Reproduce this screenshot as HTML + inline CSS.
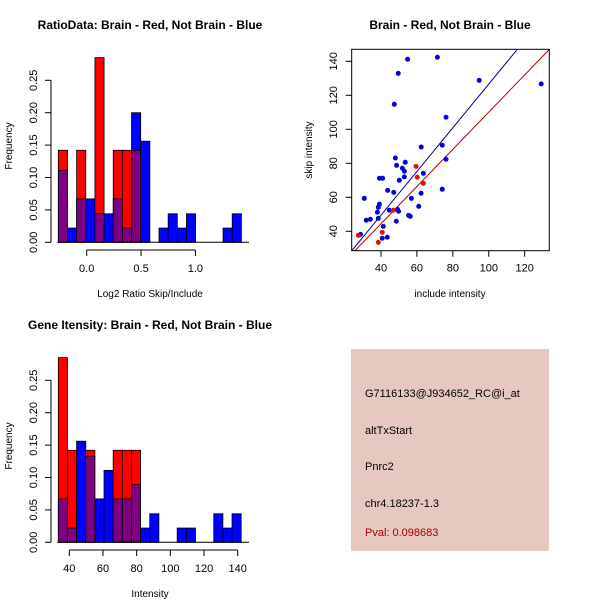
<!DOCTYPE html>
<html><head><meta charset="utf-8"><style>
body{margin:0;background:#fff}
svg{display:block;font-family:"Liberation Sans",sans-serif}
</style></head><body>
<svg id="c" width="600" height="600" viewBox="0 0 600 600" xmlns="http://www.w3.org/2000/svg">
<rect width="600" height="600" fill="#fff"/>
<g id="g1"></g>
<g id="g2"></g>
<g id="g3"></g>
<g>
<rect x="351" y="349" width="198" height="202" fill="#E6C8C0"/>
<text x="365" y="397" font-size="11">G7116133@J934652_RC@i_at</text>
<text x="365" y="434" font-size="11">altTxStart</text>
<text x="365" y="470" font-size="11">Pnrc2</text>
<text x="365" y="507" font-size="11">chr4.18237-1.3</text>
<text x="365" y="536" font-size="11" fill="#A00000">Pval: 0.098683</text>
</g>
</svg>
<script>
// ---- Histogram 1 data ----
const h1Red  = [0.142,0,0.142,0,0.285,0,0.142,0.142,0.142,0,0,0,0,0,0,0,0,0,0,0];
const h1Blue = [0.111,0.022,0.067,0.067,0.044,0.044,0.067,0.022,0.2,0.156,0,0.022,0.044,0.022,0.044,0,0,0,0.022,0.044];
const h1Start = -0.261, h1Width = 0.0842;
const h1XTicks = [0, 0.5, 1.0];
const h1XLabels = ["0.0","0.5","1.0"];
const yTicks = [0,0.05,0.10,0.15,0.20,0.25];
const yLabels = ["0.00","0.05","0.10","0.15","0.20","0.25"];
// ---- Histogram 2 data ----
const h2Red  = [0.285,0.142,0,0.142,0,0,0.142,0.142,0.142,0,0,0,0,0,0,0,0,0,0,0];
const h2Blue = [0.067,0.022,0.156,0.133,0.067,0.111,0.067,0.067,0.089,0.022,0.044,0,0,0.022,0.022,0,0,0.044,0.022,0.044];
const h2Start = 33.47, h2Width = 5.43;
const h2XTicks = [40,60,80,100,120,140];
// ---- Scatter data ----
const blueX = [71.4,54.8,49.6,94.7,129.2,47.4,76.2,62.4,74.1,76.2,48,53.5,48.7,51.9,53,63.6,53,39.1,40.9,50.2,43.7,74.1,47.1,30.7,56.9,62.3,39.1,38.5,38,44.6,49.2,49.8,61,55.4,56.3,38.5,34.1,31.8,48.5,41.3,28.6,40.7,43.5];
const blueY = [142.4,141.2,132.9,128.8,126.7,114.7,107.1,89.6,90.6,82.4,83.1,80.6,78.8,77.1,75.3,74.1,72,71.2,71.2,70,64.1,64.7,62.9,59.4,59.4,62.4,55.9,54.1,51.2,52.4,52.9,51.8,54.7,49.4,48.8,47.6,47.1,46.5,45.9,42.9,38.2,35.9,36.5];
const redX = [27.4,59.5,60.2,63.6,46.9,40.7,38.5];
const redY = [37.6,78.2,71.8,68.2,52.4,39.4,33.5];
const blueFit = [1.285,-1.9];
const redFit = [1.094,0.7];
const sXTicks = [40,60,80,100,120];
const sYTicks = [40,60,80,100,120,140];

const NS="http://www.w3.org/2000/svg";
function mk(parent,tag,attrs,txt){const e=document.createElementNS(NS,tag);for(const k in attrs)e.setAttribute(k,attrs[k]);if(txt!==undefined)e.textContent=txt;parent.appendChild(e);return e;}

function hist(g,oy,red,blue,start,width,xTicks,xLabels,title,xlab){
  const xs = xLabels? (v=>86.7+v*108.7) : (v=>69.3+(v-40)*1.684);
  const ys = v=>oy+242.3-v*648;
  for(let i=0;i<red.length;i++){
    const a=start+i*width,b=a+width;
    const xa=xs(a),xb=xs(b);
    const r=red[i],bl=blue[i];
    const mx=Math.max(r,bl),mn=Math.min(r,bl);
    if(mx>0){
      const e=mk(g,'rect',{x:xa,y:ys(mx),width:xb-xa,height:ys(0)-ys(mx),fill:r>=bl?'#FF0000':'#0000FF',stroke:'#000','stroke-width':0.8});
      
      
    }
    if(mn>0){
      const e=mk(g,'rect',{x:xa,y:ys(mn),width:xb-xa,height:ys(0)-ys(mn),fill:'#7F007F',stroke:'#000','stroke-width':0.8});
      
      
    }
  }
  mk(g,'line',{x1:xs(start)-1,x2:249,y1:ys(0),y2:ys(0),stroke:'#000'});
  mk(g,'line',{x1:51,x2:51,y1:ys(0),y2:ys(0.25),stroke:'#000'});
  yTicks.forEach((t,i)=>{
    mk(g,'line',{x1:45,x2:51,y1:ys(t),y2:ys(t),stroke:'#000'});
    const tx=mk(g,'text',{x:0,y:0,'font-size':11,'text-anchor':'middle',transform:`translate(37,${ys(t)}) rotate(-90)`},yLabels[i]);
    
    
  });
  const xa0=xs(xTicks[0]),xa1=xs(xTicks[xTicks.length-1]);
  const axY=oy+250;
  mk(g,'line',{x1:xa0,x2:xa1,y1:axY,y2:axY,stroke:'#000'});
  xTicks.forEach((t,i)=>{
    mk(g,'line',{x1:xs(t),x2:xs(t),y1:axY,y2:axY+6,stroke:'#000'});
    const tx=mk(g,'text',{x:xs(t),y:axY+22,'font-size':11,'text-anchor':'middle'},xLabels?xLabels[i]:String(t));
    
    
  });
  const tt=mk(g,'text',{x:150,y:oy+29,'font-size':12,'font-weight':'bold','text-anchor':'middle'},title);
  
  
  const xl=mk(g,'text',{x:150,y:oy+297,'font-size':10,'text-anchor':'middle'},xlab);
  
  
  const yl=mk(g,'text',{x:0,y:0,'font-size':10,'text-anchor':'middle',transform:`translate(12,${oy+146}) rotate(-90)`},'Frequency');
  
  
}
hist(document.getElementById('g1'),0,h1Red,h1Blue,h1Start,h1Width,h1XTicks,h1XLabels,'RatioData: Brain - Red, Not Brain - Blue','Log2 Ratio Skip/Include');
hist(document.getElementById('g3'),300,h2Red,h2Blue,h2Start,h2Width,h2XTicks,null,'Gene Itensity: Brain - Red, Not Brain - Blue','Intensity');

(function(){
  const g=document.getElementById('g2');
  const L=351.7,R=549.3,T=49.3,B=250.7;
  const xs=v=>381+(v-40)*1.796, ys=v=>231.3-(v-40)*1.7;
  mk(g,'defs',{}).innerHTML='<clipPath id="clp"><rect x="'+L+'" y="'+T+'" width="'+(R-L)+'" height="'+(B-T)+'"/></clipPath>';
  const lg=mk(g,'g',{'clip-path':'url(#clp)'});
  const xmin=20,xmax=140;
  const bl=mk(lg,'line',{x1:xs(xmin),y1:ys(blueFit[0]*xmin+blueFit[1]),x2:xs(xmax),y2:ys(blueFit[0]*xmax+blueFit[1]),stroke:'#00008B','stroke-width':1});
  
  
  const rl=mk(lg,'line',{x1:xs(xmin),y1:ys(redFit[0]*xmin+redFit[1]),x2:xs(xmax),y2:ys(redFit[0]*xmax+redFit[1]),stroke:'#B00000','stroke-width':1});
  
  
  blueX.forEach((v,i)=>{
    const c=mk(g,'circle',{cx:xs(v),cy:ys(blueY[i]),r:2.5,fill:'#0000E0'});
    
    
  });
  redX.forEach((v,i)=>{
    const c=mk(g,'circle',{cx:xs(v),cy:ys(redY[i]),r:2.5,fill:'#E01010'});
    
    
  });
  mk(g,'rect',{x:L,y:T,width:R-L,height:B-T,fill:'none',stroke:'#000'});
  sXTicks.forEach(t=>{
    mk(g,'line',{x1:xs(t),x2:xs(t),y1:B,y2:B+6,stroke:'#000'});
    const tx=mk(g,'text',{x:xs(t),y:B+21,'font-size':11,'text-anchor':'middle'},String(t));
    
    
  });
  sYTicks.forEach(t=>{
    mk(g,'line',{x1:L-6,x2:L,y1:ys(t),y2:ys(t),stroke:'#000'});
    const tx=mk(g,'text',{x:0,y:0,'font-size':11,'text-anchor':'middle',transform:`translate(337,${ys(t)}) rotate(-90)`},String(t));
    
    
  });
  const tt=mk(g,'text',{x:450,y:29,'font-size':12,'font-weight':'bold','text-anchor':'middle'},'Brain - Red, Not Brain - Blue');
  
  
  const xl=mk(g,'text',{x:450,y:297,'font-size':10,'text-anchor':'middle'},'include intensity');
  
  
  const yl=mk(g,'text',{x:0,y:0,'font-size':10,'text-anchor':'middle',transform:'translate(312,150) rotate(-90)'},'skip intensity');
  
  
})();
</script>
</body></html>
